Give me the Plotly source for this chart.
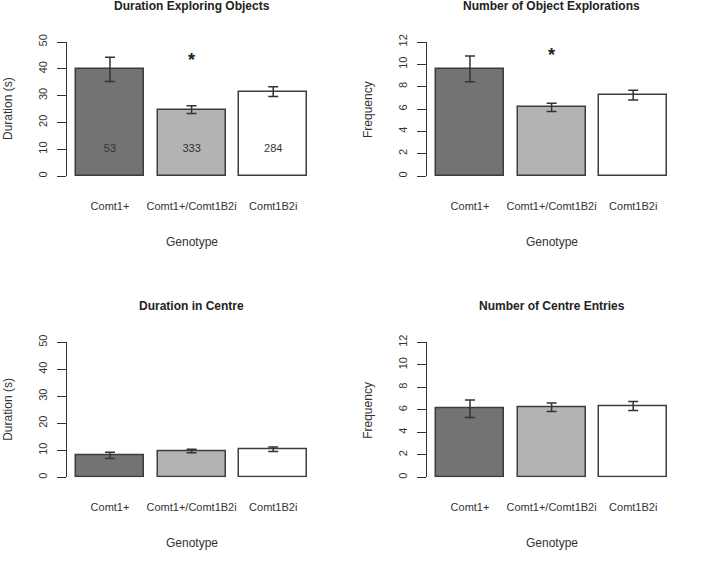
import plotly.graph_objects as go

genotypes = ["Comt1+", "Comt1+/Comt1B2i", "Comt1B2i"]
bar_pos = [0.7, 1.9, 3.1]
bar_colors = ["#737373", "#b3b3b3", "#ffffff"]

titles = ["Duration Exploring Objects", "Number of Object Explorations",
          "Duration in Centre", "Number of Centre Entries"]
ytitles = ["Duration (s)", "Frequency", "Duration (s)", "Frequency"]
ymax = [50, 12, 50, 12]
ydtick = [10, 2, 10, 2]

means = [
    [39.8, 24.8, 31.5],
    [9.6, 6.15, 7.25],
    [8.1, 9.7, 10.4],
    [6.1, 6.22, 6.33],
]
sems = [
    [4.5, 1.45, 1.8],
    [1.15, 0.37, 0.44],
    [1.15, 0.65, 0.8],
    [0.78, 0.38, 0.4],
]
n_labels = ["53", "333", "284"]
n_label_y = 10
stars = [(0, 1, 43.3), (1, 1, 10.8)]   # (panel, bar index, y)

W, H = 709, 567
x_dom = [[67 / W, 316.6 / W], [427 / W, 676.6 / W]]
y_dom = [[1 - 176 / H, 1 - 42 / H], [1 - 477.3 / H, 1 - 342.3 / H]]

fig = go.Figure()
annots = []
font = "Liberation Sans, Arial, sans-serif"

for p in range(4):
    r, c = divmod(p, 2)
    sfx = "" if p == 0 else str(p + 1)
    xa, ya = "x" + sfx, "y" + sfx
    fig.add_trace(go.Bar(
        x=bar_pos, y=means[p], width=1.0,
        marker=dict(color=bar_colors, line=dict(color="#3c3c3c", width=1.5)),
        error_y=dict(type="data", array=sems[p], color="#333333", thickness=1.5, width=5),
        xaxis=xa, yaxis=ya, showlegend=False, hoverinfo="skip"))
    fig.layout["xaxis" + sfx] = dict(
        domain=x_dom[c], range=[0.068, 3.738], anchor=ya, automargin=False,
        showline=False, showgrid=False, zeroline=False, ticks="",
        tickvals=bar_pos, ticktext=genotypes, ticklabelstandoff=22,
        tickfont=dict(size=11, color="#333333", family=font))
    fig.layout["yaxis" + sfx] = dict(
        domain=y_dom[r], range=[0, ymax[p]], anchor=xa, automargin=False,
        dtick=ydtick[p], tick0=0, showline=True, linecolor="#333333", linewidth=1.2,
        ticks="outside", ticklen=9, tickwidth=1.2, tickcolor="#333333",
        tickangle=-90, showgrid=False, zeroline=False, ticklabelstandoff=6,
        tickfont=dict(size=11, color="#333333", family=font))
    # panel title
    annots.append(dict(text="<b>" + titles[p] + "</b>", x=1.9, xref=xa,
                       y=y_dom[r][1], yref="paper", yshift=36, yanchor="middle",
                       showarrow=False, font=dict(size=12, color="#222222", family=font)))
    # x axis title
    annots.append(dict(text="Genotype", x=1.9, xref=xa, y=y_dom[r][0], yref="paper",
                       yshift=-66, yanchor="middle", showarrow=False,
                       font=dict(size=12, color="#333333", family=font)))
    # y axis title
    annots.append(dict(text=ytitles[p], x=x_dom[c][0], xref="paper", xshift=-59,
                       xanchor="center", yanchor="middle",
                       y=(y_dom[r][0] + y_dom[r][1]) / 2, yref="paper",
                       textangle=-90, showarrow=False,
                       font=dict(size=12, color="#333333", family=font)))

# sample sizes in first panel
fig.add_trace(go.Scatter(x=bar_pos, y=[n_label_y] * 3, mode="text", text=n_labels,
                         textfont=dict(size=11, color="#333333", family=font),
                         xaxis="x", yaxis="y", showlegend=False, hoverinfo="skip"))

for p, b, yv in stars:
    sfx = "" if p == 0 else str(p + 1)
    annots.append(dict(text="<b>*</b>", x=bar_pos[b], xref="x" + sfx, y=yv, yref="y" + sfx,
                       showarrow=False, font=dict(size=18, color="#222222", family=font)))

fig.update_layout(width=W, height=H, margin=dict(l=0, r=0, t=0, b=0),
                  paper_bgcolor="white", plot_bgcolor="white", annotations=annots,
                  bargap=0)
# drop the default 8px body margin so the figure fills the window
fig.write_html("out.html", config={"displayModeBar": False},
               post_script="document.body.style.margin='0';")
